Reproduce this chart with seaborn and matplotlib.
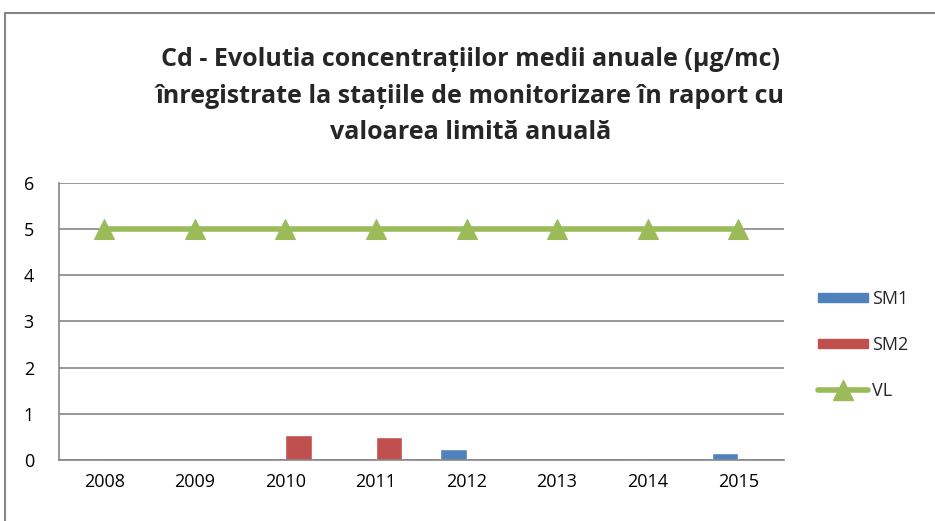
import numpy as np
import pandas as pd
import matplotlib
matplotlib.use("Agg")
import matplotlib.pyplot as plt
import seaborn as sns
from matplotlib.patches import Patch
from matplotlib.lines import Line2D

years = ["2008", "2009", "2010", "2011", "2012", "2013", "2014", "2015"]
sm1 = [0.01, np.nan, np.nan, np.nan, 0.23, np.nan, 0.01, 0.15]
sm2 = [np.nan, np.nan, 0.54, 0.49, np.nan, np.nan, np.nan, np.nan]
vl = [5, 5, 5, 5, 5, 5, 5, 5]

df = pd.DataFrame({"an": years * 2,
                   "valoare": sm1 + sm2,
                   "statie": ["SM1"] * 8 + ["SM2"] * 8})

sns.set_style("white")
plt.rcParams["font.family"] = ["Open Sans", "DejaVu Sans"]

fig = plt.figure(figsize=(9.35, 5.21), dpi=100)
ax = fig.add_axes([0.063, 0.117, 0.775, 0.532])

sns.barplot(data=df, x="an", y="valoare", hue="statie", order=years,
            palette={"SM1": "#4F81BD", "SM2": "#C0504D"}, width=0.58,
            saturation=1, legend=False, ax=ax)
sns.lineplot(x=years, y=vl, color="#9BBB59", linewidth=4, marker="^",
             markersize=15, markeredgecolor="#9BBB59", ax=ax, zorder=5)

ax.set_ylim(0, 6)
ax.set_xlim(-0.5, 7.5)
ax.set_yticks(range(0, 7))
ax.yaxis.grid(True, color="#868686", linewidth=1.2)
ax.set_axisbelow(True)
for s in ["top", "right"]:
    ax.spines[s].set_visible(False)
for s in ["left", "bottom"]:
    ax.spines[s].set_color("#868686")
    ax.spines[s].set_linewidth(1.2)
ax.tick_params(axis="both", labelsize=13, colors="black", length=0)
ax.tick_params(axis="y", pad=18)
ax.tick_params(axis="x", pad=9)
ax.set_xlabel("")
ax.set_ylabel("")

fig.suptitle("Cd - Evolutia concentrațiilor medii anuale (µg/mc)\n"
             "înregistrate la stațiile de monitorizare în raport cu\n"
             "valoarea limită anuală",
             x=0.503, y=0.91, fontsize=18, fontweight="bold",
             linespacing=1.62, family=["Open Sans", "DejaVu Sans"])

handles = [Patch(color="#4F81BD", label="SM1"),
           Patch(color="#C0504D", label="SM2"),
           Line2D([0], [0], color="#9BBB59", linewidth=4, marker="^",
                  markersize=14, label="VL")]
fig.legend(handles=handles, loc="center left", bbox_to_anchor=(0.857, 0.338),
           frameon=False, fontsize=13, handlelength=2.8, handleheight=0.45,
           labelspacing=1.55, handletextpad=0.2)

# chart border
fig.add_artist(Line2D([0.005, 1.0], [0.975, 0.975], color="#868686", linewidth=1.5))
fig.add_artist(Line2D([0.005, 0.005], [0.0, 0.975], color="#868686", linewidth=1.5))

fig.savefig("out.png", dpi=100)
